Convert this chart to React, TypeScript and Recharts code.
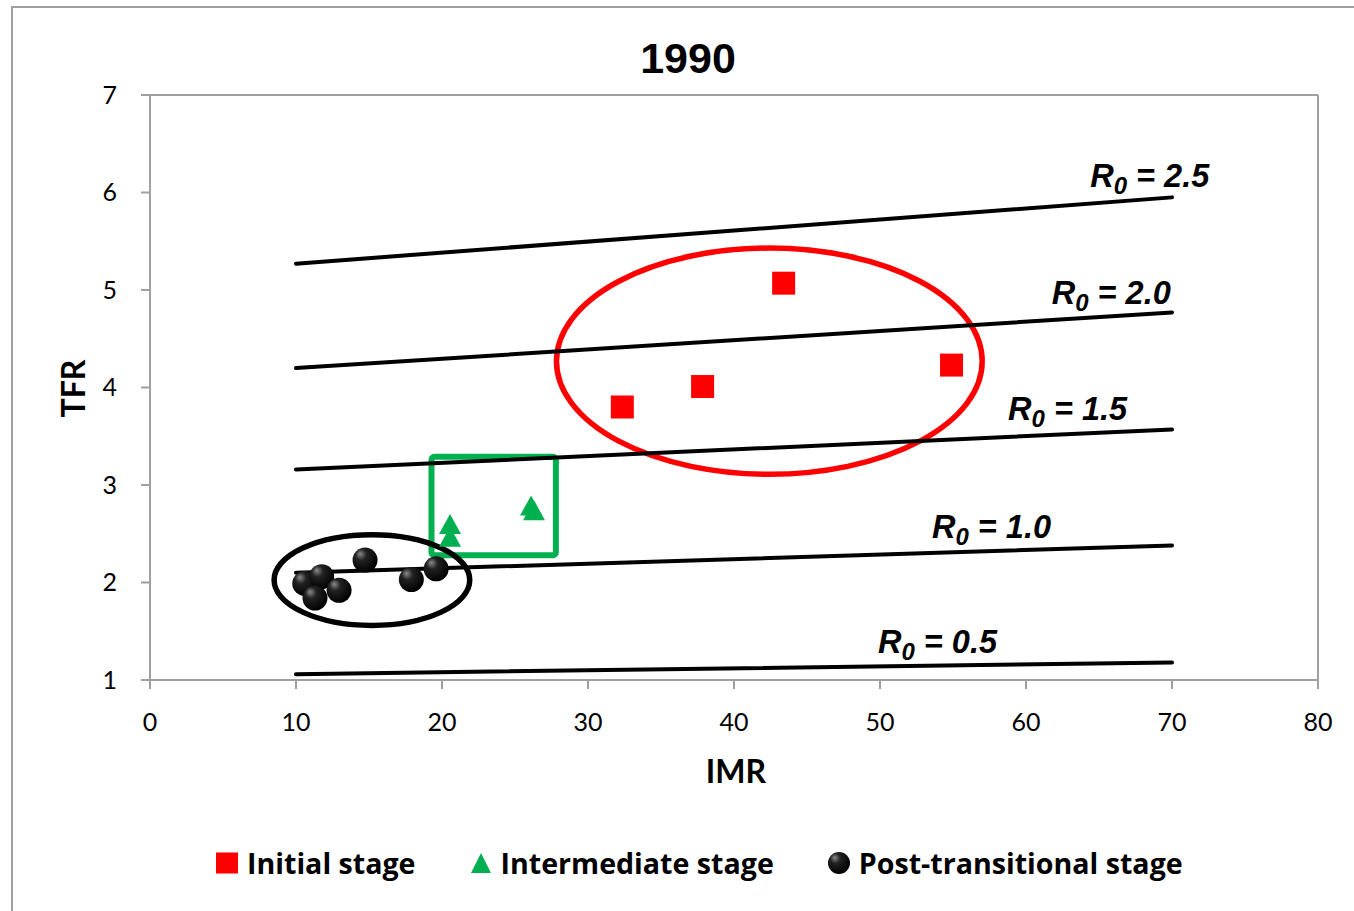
import React from 'react';
import { ScatterChart, Scatter, XAxis, YAxis, ReferenceArea, ReferenceLine, Legend } from 'recharts';

const initialStage = [
  { imr: 32.35, tfr: 3.8 },
  { imr: 37.85, tfr: 4.01 },
  { imr: 43.4, tfr: 5.07 },
  { imr: 54.9, tfr: 4.23 },
];
const intermediateStage = [
  { imr: 20.55, tfr: 2.6 },
  { imr: 20.55, tfr: 2.47 },
  { imr: 26.1, tfr: 2.79 },
  { imr: 26.3, tfr: 2.74 },
];
const postTransitional = [
  { imr: 14.73, tfr: 2.23 },
  { imr: 10.6, tfr: 1.99 },
  { imr: 11.76, tfr: 2.06 },
  { imr: 12.95, tfr: 1.92 },
  { imr: 11.3, tfr: 1.84 },
  { imr: 17.9, tfr: 2.03 },
  { imr: 19.6, tfr: 2.14 },
];
const lineImr = [10, 70];
const r0Lines = [
  { r0: '2.5', tfr: [5.27, 5.95] },
  { r0: '2.0', tfr: [4.2, 4.77] },
  { r0: '1.5', tfr: [3.16, 3.57] },
  { r0: '1.0', tfr: [2.1, 2.38] },
  { r0: '0.5', tfr: [1.06, 1.18] },
];
const r0Labels = [
  { r0: '2.5', imr: 64.4, tfr: 6.06 },
  { r0: '2.0', imr: 61.76, tfr: 4.86 },
  { r0: '1.5', imr: 58.77, tfr: 3.67 },
  { r0: '1.0', imr: 53.56, tfr: 2.46 },
  { r0: '0.5', imr: 49.86, tfr: 1.28 },
];
const groupMarks = [
  { key: 'initial', kind: 'ellipse', color: '#ff0000', x1: 27.84, x2: 57.0, y1: 3.11, y2: 5.43, width: 5.5 },
  { key: 'intermediate', kind: 'rect', color: '#00b050', x1: 19.28, x2: 27.8, y1: 2.28, y2: 3.29, width: 6 },
  { key: 'post', kind: 'ellipse', color: '#000000', x1: 8.5, x2: 21.9, y1: 1.56, y2: 2.49, width: 5.5 },
];
const xTicks = [0, 10, 20, 30, 40, 50, 60, 70, 80];
const yTicks = [1, 2, 3, 4, 5, 6, 7];
const legendItems = [
  { name: 'Initial stage', marker: 'square', color: '#ff0000' },
  { name: 'Intermediate stage', marker: 'triangle', color: '#00b050' },
  { name: 'Post-transitional stage', marker: 'circle', color: '#000000' },
];
const title = '1990';

const AXIS_GRAY = '#a0a0a0';
const TICK_FONT = 'Lato, "Open Sans", sans-serif';
const LEGEND_FONT = '"Open Sans", Lato, sans-serif';

const SquareShape = (p: any) => {
  const s = 23;
  return <rect x={p.cx - s / 2} y={p.cy - s / 2} width={s} height={s} fill="#ff0000" />;
};
const TriangleShape = (p: any) => {
  const w = 22, h = 20;
  return (
    <polygon
      points={`${p.cx},${p.cy - h / 2} ${p.cx + w / 2},${p.cy + h / 2} ${p.cx - w / 2},${p.cy + h / 2}`}
      fill="#00b050"
    />
  );
};
const BallShape = (p: any) => <circle cx={p.cx} cy={p.cy} r={12.5} fill="url(#ballGrad)" />;
const NoShape = () => <g />;

const LabelShape = (p: any) => (
  <text
    x={p.cx}
    y={p.cy}
    fontFamily='"Liberation Sans", Arial, sans-serif'
    fontWeight="bold"
    fontStyle="italic"
    fontSize={32.5}
    fill="#000"
  >
    R
    <tspan fontSize={24} dy={7}>0</tspan>
    <tspan dy={-7}>{' = ' + p.payload.r0}</tspan>
  </text>
);

const GroupShape = (mark: any) => (p: any) => {
  const { x, y, width, height } = p;
  if (mark.kind === 'rect') {
    return (
      <rect x={x} y={y} width={width} height={height} rx={3} fill="none" stroke={mark.color} strokeWidth={mark.width} />
    );
  }
  return (
    <ellipse
      cx={x + width / 2}
      cy={y + height / 2}
      rx={width / 2}
      ry={height / 2}
      fill="none"
      stroke={mark.color}
      strokeWidth={mark.width}
    />
  );
};

const LegendContent = () => (
  <div style={{ display: 'flex', alignItems: 'center', fontFamily: LEGEND_FONT, fontWeight: 700, fontSize: 28.6, lineHeight: 1, color: '#000', whiteSpace: 'nowrap' }}>
    {legendItems.map((it, i) => (
      <div key={it.name} style={{ display: 'flex', alignItems: 'center', marginRight: i < legendItems.length - 1 ? 54 : 0 }}>
        <svg width={22} height={22} style={{ marginRight: 9, display: 'block' }}>
          <defs>
            <radialGradient id={`lg${i}`} cx="0.4" cy="0.35" r="0.65" fx="0.3" fy="0.25">
              <stop offset="0" stopColor="#8a8a8a" />
              <stop offset="0.35" stopColor="#222" />
              <stop offset="1" stopColor="#000" />
            </radialGradient>
          </defs>
          {it.marker === 'square' && <rect x={0} y={0.5} width={22} height={21} fill={it.color} />}
          {it.marker === 'triangle' && <polygon points="11,1 21,21 1,21" fill={it.color} />}
          {it.marker === 'circle' && <circle cx={11} cy={11} r={11} fill={`url(#lg${i})`} />}
        </svg>
        <span>{it.name}</span>
      </div>
    ))}
  </div>
);

export default function App() {
  return (
    <div style={{ position: 'absolute', left: 0, top: 0, width: 1354, height: 911, overflow: 'hidden', background: '#fff' }}>
      <svg width={1354} height={911} style={{ position: 'absolute', left: 0, top: 0 }}>
        <rect x={12} y={7} width={1400} height={1000} fill="none" stroke={AXIS_GRAY} strokeWidth={2} />
        <text x={688} y={73} textAnchor="middle" fontFamily='"Liberation Sans", Arial, sans-serif' fontWeight="bold" fontSize={43} fill="#000">
          {title}
        </text>
      </svg>
      <div style={{ position: 'absolute', left: 0, top: 0 }}>
        <ScatterChart width={1354} height={911} margin={{ top: 95, right: 36, left: 70, bottom: 131 }}>
          <defs>
            <radialGradient id="ballGrad" cx="0.4" cy="0.35" r="0.65" fx="0.3" fy="0.25">
              <stop offset="0" stopColor="#8a8a8a" />
              <stop offset="0.35" stopColor="#222" />
              <stop offset="1" stopColor="#000" />
            </radialGradient>
          </defs>
          <XAxis
            type="number"
            dataKey="imr"
            domain={[0, 80]}
            ticks={xTicks}
            interval={0}
            allowDataOverflow
            height={100}
            tickSize={9}
            tickMargin={24}
            axisLine={{ stroke: AXIS_GRAY, strokeWidth: 2 }}
            tickLine={{ stroke: AXIS_GRAY, strokeWidth: 2 }}
            tick={{ fill: '#000', fontSize: 25, fontFamily: TICK_FONT }}
            label={{
              content: (props: any) => {
                const vb = props.viewBox || { x: 150, y: 680, width: 1168 };
                return (
                  <text x={vb.x + vb.width / 2 + 2} y={vb.y + 103} textAnchor="middle" fontFamily={TICK_FONT} fontWeight="bold" fontSize={32} fill="#000">
                    IMR
                  </text>
                );
              },
            }}
          />
          <YAxis
            type="number"
            dataKey="tfr"
            domain={[1, 7]}
            ticks={yTicks}
            interval={0}
            allowDataOverflow
            width={80}
            tickSize={9}
            tickMargin={24}
            axisLine={{ stroke: AXIS_GRAY, strokeWidth: 2 }}
            tickLine={{ stroke: AXIS_GRAY, strokeWidth: 2 }}
            tick={{ fill: '#000', fontSize: 25, fontFamily: TICK_FONT }}
            label={{
              content: (props: any) => {
                const vb = props.viewBox || { x: 70, y: 95, height: 585 };
                const cx = vb.x + 15;
                const cy = vb.y + vb.height / 2 + 1;
                return (
                  <text x={cx} y={cy} transform={`rotate(-90, ${cx}, ${cy})`} textAnchor="middle" fontFamily={TICK_FONT} fontWeight="bold" fontSize={32} fill="#000">
                    TFR
                  </text>
                );
              },
            }}
          />
          <ReferenceLine y={7} stroke={AXIS_GRAY} strokeWidth={2} />
          <ReferenceLine x={80} stroke={AXIS_GRAY} strokeWidth={2} />
          {groupMarks.map((m) => (
            <ReferenceArea key={m.key} x1={m.x1} x2={m.x2} y1={m.y1} y2={m.y2} shape={GroupShape(m)} ifOverflow="visible" />
          ))}
          {r0Lines.map((l) => (
            <Scatter
              key={'line' + l.r0}
              data={lineImr.map((x, i) => ({ imr: x, tfr: l.tfr[i] }))}
              line={{ stroke: '#000', strokeWidth: 4, strokeLinecap: 'round' }}
              shape={NoShape}
              isAnimationActive={false}
              legendType="none"
            />
          ))}
          <Scatter data={r0Labels} shape={LabelShape} isAnimationActive={false} legendType="none" />
          <Scatter name="Initial stage" data={initialStage} shape={SquareShape} isAnimationActive={false} />
          <Scatter name="Intermediate stage" data={intermediateStage} shape={TriangleShape} isAnimationActive={false} />
          <Scatter name="Post-transitional stage" data={postTransitional} shape={BallShape} isAnimationActive={false} />
          <Legend
            layout="horizontal"
            verticalAlign="middle"
            align="center"
            content={LegendContent}
            wrapperStyle={{ top: 849, left: 216, width: 1100, height: 40 }}
          />
        </ScatterChart>
      </div>
    </div>
  );
}
